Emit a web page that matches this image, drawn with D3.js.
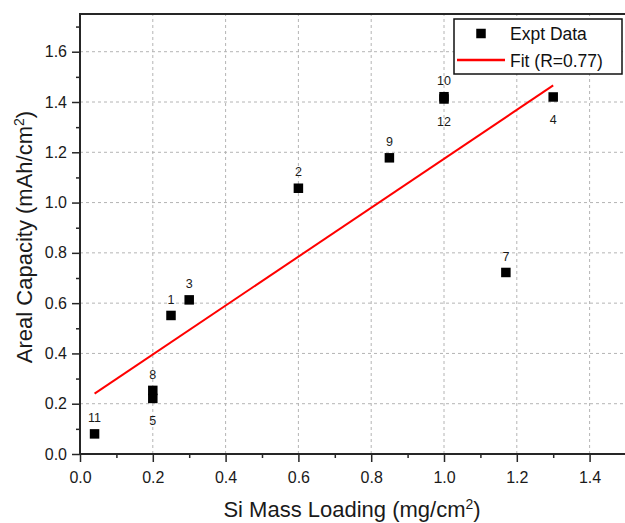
<!DOCTYPE html>
<html>
<head>
<meta charset="utf-8">
<script src="https://cdn.jsdelivr.net/npm/d3@7"></script>
<style>
  html, body { margin: 0; padding: 0; background: #fff; }
  svg { display: block; font-family: "Liberation Sans", Arial, sans-serif; }
</style>
</head>
<body>
<svg id="chart" width="625" height="523"></svg>
<script>
// ---- data ----
const sampleIds   = ["1", "2", "3", "4", "5", "7", "8", "9", "10", "11", "12"];
const massLoading = [0.25, 0.60, 0.30, 1.30, 0.20, 1.17, 0.20, 0.85, 1.00, 0.04, 1.00];
const capacity    = [0.551, 1.057, 0.613, 1.420, 0.221, 0.722, 0.253, 1.178, 1.421, 0.080, 1.412];
const labelBelow  = [false, false, false, true, true, false, false, false, false, false, true];
const fitX        = [0.04, 1.30];
const fitY        = [0.240, 1.466];
const xTicks      = [0.0, 0.2, 0.4, 0.6, 0.8, 1.0, 1.2, 1.4];
const xMinor      = [0.1, 0.3, 0.5, 0.7, 0.9, 1.1, 1.3, 1.5];
const yTicks      = [0.0, 0.2, 0.4, 0.6, 0.8, 1.0, 1.2, 1.4, 1.6];
const yMinor      = [0.1, 0.3, 0.5, 0.7, 0.9, 1.1, 1.3, 1.5, 1.7];
const legendLabels = ["Expt Data", "Fit (R=0.77)"];

// ---- layout ----
const svg = d3.select("#chart");
const L = 80, R = 626, T = 14, B = 454;
const x = d3.scaleLinear().domain([0, 1.5]).range([L, R]);
const y = d3.scaleLinear().domain([0, 1.75]).range([B, T]);
const axisColor = "#262626";

// gridlines
const grid = svg.append("g");
grid.selectAll(".gx").data(xTicks.filter(d => d > 0)).join("line")
  .attr("x1", d => x(d)).attr("x2", d => x(d)).attr("y1", B).attr("y2", T)
  .attr("stroke", "#b4b4b4").attr("stroke-width", 1).attr("stroke-dasharray", "3,3");
grid.selectAll(".gy").data(yTicks.filter(d => d > 0)).join("line")
  .attr("y1", d => y(d)).attr("y2", d => y(d)).attr("x1", L).attr("x2", R)
  .attr("stroke", "#b4b4b4").attr("stroke-width", 1).attr("stroke-dasharray", "3,3");

// fit line
svg.append("line")
  .attr("x1", x(fitX[0])).attr("y1", y(fitY[0]))
  .attr("x2", x(fitX[1])).attr("y2", y(fitY[1]))
  .attr("stroke", "#ff0000").attr("stroke-width", 2);

// points
const sq = 9.5;
svg.append("g").selectAll("rect").data(massLoading).join("rect")
  .attr("x", (d) => x(d) - sq / 2)
  .attr("y", (d, i) => y(capacity[i]) - sq / 2)
  .attr("width", sq).attr("height", sq)
  .attr("fill", "#000");

// point labels
svg.append("g").selectAll("text").data(sampleIds).join("text")
  .attr("x", (d, i) => x(massLoading[i]))
  .attr("y", (d, i) => labelBelow[i] ? y(capacity[i]) + sq / 2 + 22 : y(capacity[i]) - sq / 2 - 7)
  .attr("text-anchor", "middle")
  .attr("font-size", 12.5)
  .attr("fill", "#1a1a1a")
  .text(d => d);

// axes
function styleAxis(g) {
  g.select(".domain").remove();
  g.selectAll(".tick line").attr("stroke", axisColor).attr("stroke-width", 1.5);
  g.selectAll(".tick text").attr("fill", "#1a1a1a").attr("font-size", 16)
    .attr("font-family", "'Liberation Sans', Arial, sans-serif");
}
const xAxis = svg.append("g").attr("transform", `translate(0,${B})`)
  .call(d3.axisBottom(x).tickValues(xTicks).tickFormat(d3.format(".1f")).tickSize(8).tickPadding(10));
styleAxis(xAxis);
const xAxisMinor = svg.append("g").attr("transform", `translate(0,${B})`)
  .call(d3.axisBottom(x).tickValues(xMinor).tickFormat("").tickSize(4));
styleAxis(xAxisMinor);
const yAxis = svg.append("g").attr("transform", `translate(${L},0)`)
  .call(d3.axisLeft(y).tickValues(yTicks).tickFormat(d3.format(".1f")).tickSize(8).tickPadding(5));
styleAxis(yAxis);
const yAxisMinor = svg.append("g").attr("transform", `translate(${L},0)`)
  .call(d3.axisLeft(y).tickValues(yMinor).tickFormat("").tickSize(4));
styleAxis(yAxisMinor);

// frame
svg.append("rect").attr("x", L).attr("y", T).attr("width", R - L).attr("height", B - T)
  .attr("fill", "none").attr("stroke", axisColor).attr("stroke-width", 2);

// axis titles
const xt = svg.append("text").attr("x", 352).attr("y", 517).attr("text-anchor", "middle")
  .attr("font-size", 22).attr("fill", "#1a1a1a");
xt.append("tspan").text("Si Mass Loading (mg/cm");
xt.append("tspan").attr("dy", -8).attr("font-size", 14).text("2");
xt.append("tspan").attr("dy", 8).text(")");

const yt = svg.append("text").attr("transform", "translate(32,237) rotate(-90)")
  .attr("text-anchor", "middle").attr("font-size", 22).attr("fill", "#1a1a1a");
yt.append("tspan").text("Areal Capacity (mAh/cm");
yt.append("tspan").attr("dy", -8).attr("font-size", 14).text("2");
yt.append("tspan").attr("dy", 8).text(")");

// legend
const lg = svg.append("g");
lg.append("rect").attr("x", 454).attr("y", 19).attr("width", 168).attr("height", 55)
  .attr("fill", "#fff").attr("stroke", "#111").attr("stroke-width", 1.5);
lg.append("rect").attr("x", 481 - sq / 2).attr("y", 33.5 - sq / 2).attr("width", sq).attr("height", sq).attr("fill", "#000");
lg.append("line").attr("x1", 457).attr("x2", 505).attr("y1", 60).attr("y2", 60)
  .attr("stroke", "#ff0000").attr("stroke-width", 2.5);
lg.selectAll("text").data(legendLabels).join("text")
  .attr("x", 510).attr("y", (d, i) => i === 0 ? 40 : 66.5)
  .attr("font-size", 17.5).attr("fill", "#111").text(d => d);
</script>
</body>
</html>
